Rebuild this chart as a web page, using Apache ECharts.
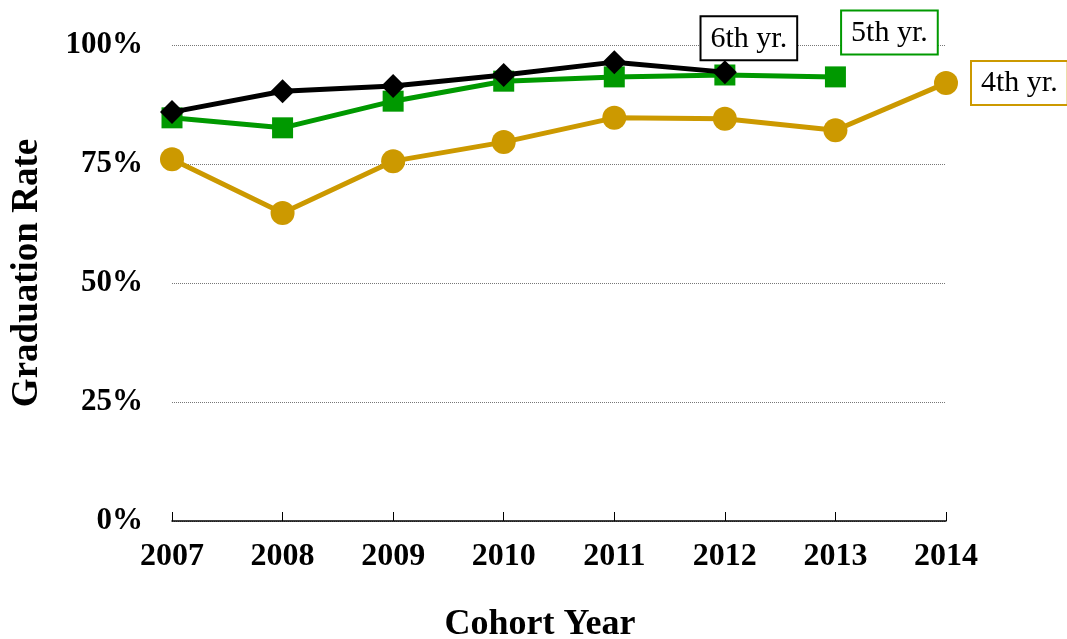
<!DOCTYPE html>
<html>
<head>
<meta charset="utf-8">
<script src="https://cdn.jsdelivr.net/npm/echarts@6/dist/echarts.min.js"></script>
<style>
    html, body { margin: 0; padding: 0; background: #fff; }
    #chart { width: 1067px; height: 639px; }
</style>
</head>
<body>
<div id="chart"></div>
<script>
    // cohort years on the x axis
    const years = ['2007', '2008', '2009', '2010', '2011', '2012', '2013', '2014']
    // graduation rates (%) per cohort
    const fourthYr = [76.0, 64.7, 75.6, 79.6, 84.7, 84.5, 82.1, 92.0]
    const fifthYr = [84.7, 82.6, 88.2, 92.4, 93.3, 93.7, 93.3, null]
    const sixthYr = [85.9, 90.3, 91.4, 93.7, 96.4, 94.3, null, null]
    const yTicks = [0, 25, 50, 75, 100]

    const serif = 'Liberation Serif, Times New Roman, serif'

    // put a boxed name label on the last point of a series
    function withEndLabel (values, text, color, labelPos) {
        let last = -1
        values.forEach((v, i) => { if (v != null) last = i })
        return values.map((v, i) => {
            if (i !== last) return v
            return {
                value: v,
                label: Object.assign({
                    show: true,
                    formatter: text,
                    fontFamily: serif,
                    fontSize: 30,
                    color: '#000',
                    backgroundColor: '#fff',
                    borderColor: color,
                    borderWidth: 2,
                    padding: [7, 9, 5, 9]
                }, labelPos)
            }
        })
    }

    const chart = echarts.init(document.getElementById('chart'))
    chart.setOption({
        animation: false,
        grid: { left: 172, right: 121, top: 45, bottom: 118, containLabel: false, outerBoundsMode: 'none' },
        xAxis: {
            type: 'category',
            data: years,
            boundaryGap: false,
            name: 'Cohort Year',
            nameLocation: 'middle',
            nameGap: 86,
            nameTextStyle: { fontFamily: serif, fontSize: 36, fontWeight: 'bold', color: '#000', padding: [0, 38, 0, 0] },
            axisLine: { lineStyle: { color: '#000', width: 1.5 } },
            axisTick: { inside: true, length: 9, lineStyle: { color: '#000', width: 1 } },
            axisLabel: { margin: 20, fontFamily: serif, fontSize: 32, fontWeight: 'bold', color: '#000' },
            splitLine: { show: false }
        },
        yAxis: {
            type: 'value',
            min: yTicks[0],
            max: yTicks[yTicks.length - 1],
            interval: 25,
            name: 'Graduation Rate',
            nameLocation: 'middle',
            nameGap: 126,
            nameTextStyle: { fontFamily: serif, fontSize: 37, fontWeight: 'bold', color: '#000', padding: [0, 0, 0, 20] },
            axisLine: { show: false },
            axisTick: { show: false },
            axisLabel: { margin: 29, fontFamily: serif, fontSize: 31, fontWeight: 'bold', color: '#000', formatter: '{value}%' },
            splitLine: { lineStyle: { color: '#777', type: [1, 1], width: 1 } }
        },
        series: [
            {
                name: '4th yr.',
                type: 'line',
                data: withEndLabel(fourthYr, '4th yr.', '#cc9900', { position: 'right', distance: 14 }),
                symbol: 'circle',
                symbolSize: 24,
                lineStyle: { color: '#cc9900', width: 5 },
                itemStyle: { color: '#cc9900' },
                z: 2
            },
            {
                name: '5th yr.',
                type: 'line',
                data: withEndLabel(fifthYr, '5th yr.', '#009900', { position: 'top', distance: 13, offset: [54, 0] }),
                symbol: 'rect',
                symbolSize: 21,
                lineStyle: { color: '#009900', width: 5 },
                itemStyle: { color: '#009900' },
                z: 3
            },
            {
                name: '6th yr.',
                type: 'line',
                data: withEndLabel(sixthYr, '6th yr.', '#000000', { position: 'top', distance: 1, offset: [24, 0] }),
                symbol: 'diamond',
                symbolSize: 24,
                lineStyle: { color: '#000', width: 5 },
                itemStyle: { color: '#000' },
                z: 4
            }
        ]
    })
</script>
</body>
</html>
